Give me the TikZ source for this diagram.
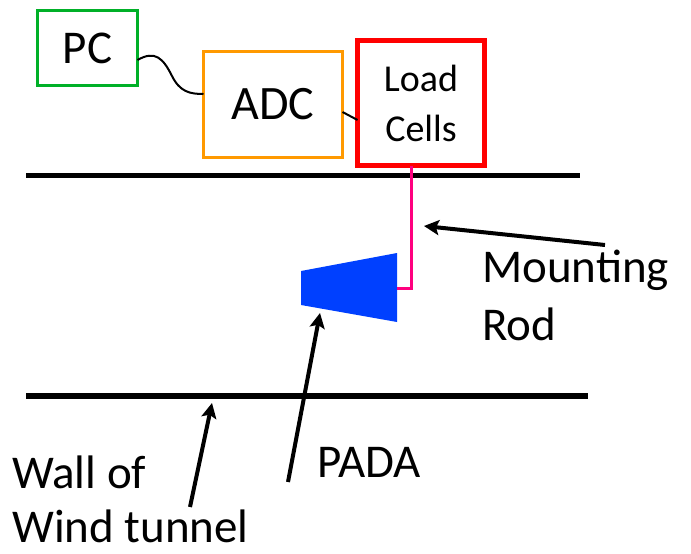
\documentclass[tikz,border=0pt]{standalone}
\usepackage{fontspec}
\setmainfont{Carlito}
\usetikzlibrary{arrows.meta,calc}
\definecolor{pcgreen}{RGB}{0,176,40}
\definecolor{adcorange}{RGB}{255,153,0}
\definecolor{lcred}{RGB}{255,0,0}
\definecolor{rodpink}{RGB}{255,0,127}
\definecolor{padablue}{RGB}{0,64,255}
\tikzset{
  box/.style={draw,inner sep=0pt,outer sep=0pt,align=center},
  wall/.style={line width=5.5pt,black},
  pointer/.style={line width=4pt,black,-{Stealth[length=15pt,width=15pt,inset=3pt]}},
  cable/.style={line width=2pt,black},
  lbl/.style={inner sep=0pt,anchor=base west},
}
\begin{document}
\begin{tikzpicture}[x=1pt,y=-1pt]
\useasboundingbox (0,0) rectangle (691,554);
% boxes
\node[box,pcgreen,line width=3pt,minimum width=100pt,minimum height=75pt,text=black,font=\fontsize{47}{56}\selectfont] (pc) at (87.5,48) {PC};
\node[box,adcorange,line width=3pt,minimum width=139pt,minimum height=106pt,text=black,font=\fontsize{48}{58}\selectfont] (adc) at (273,104.5) {ADC};
\node[box,lcred,line width=5pt,minimum width=127pt,minimum height=125pt,text=black,font=\fontsize{38}{50}\selectfont] (load) at (421,103) {Load\\Cells};
% cables
\draw[cable] ([yshift=-12pt]pc.east) .. controls (155,50) and (163,58) .. (172,76) .. controls (180,92) and (190,94) .. ([yshift=10.5pt]adc.west);
\draw[cable] ([yshift=-7.5pt]adc.east) -- ([yshift=-17pt]load.west);
% walls
\coordinate (tw1) at (26,175.5);
\coordinate (tw2) at (580,175.5);
\coordinate (bw1) at (26,396);
\coordinate (bw2) at (588,396);
\draw[wall] (tw1) -- (tw2);
\draw[wall] (bw1) -- (bw2);
% PADA model
\coordinate (p1) at (301,271);
\coordinate (p2) at (397,253);
\coordinate (p3) at (397,322);
\coordinate (p4) at (301,305);
\fill[padablue] (p1) -- (p2) -- (p3) -- (p4) -- cycle;
% mounting rod
\coordinate (rodend) at (397,288);
\draw[rodpink,line width=3pt] ([xshift=-10pt]load.south) |- (rodend);
% labels
\node[lbl,font=\fontsize{47}{58}\selectfont] (mount) at (482,282) {Mounting};
\node[lbl,font=\fontsize{47}{58}\selectfont] (rod) at (482,340) {Rod};
\node[lbl,font=\fontsize{47}{58}\selectfont] (pada) at (317,477) {PADA};
\node[lbl,font=\fontsize{47}{58}\selectfont] (wall1) at (12,488) {Wall of};
\node[lbl,font=\fontsize{47}{58}\selectfont] (wall2) at (12,542) {Wind tunnel};
% pointers
\coordinate (ma) at (605,245);
\coordinate (mb) at (424,226);
\coordinate (pa) at (288,482);
\coordinate (pb) at (320,313);
\coordinate (wa) at (190,507);
\coordinate (wb) at (212,403);
\draw[pointer] (ma) -- (mb);
\draw[pointer] (pa) -- (pb);
\draw[pointer] (wa) -- (wb);
\end{tikzpicture}
\end{document}
